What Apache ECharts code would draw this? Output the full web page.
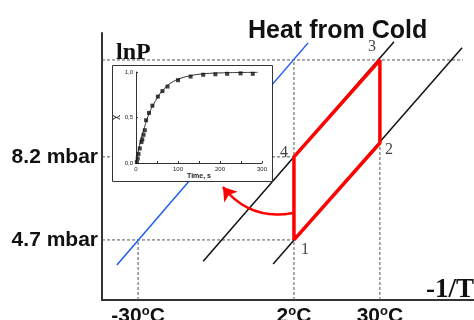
<!DOCTYPE html>
<html>
<head>
<meta charset="utf-8">
<script src="https://cdn.jsdelivr.net/npm/echarts@6/dist/echarts.min.js"></script>
<style>
  html, body { margin: 0; padding: 0; background: #fff; }
  #chart { width: 474px; height: 320px; }
</style>
</head>
<body>
<div id="chart"></div>
<script>
// main diagram, schematic units (x = -1/T, y = lnP), both 0..100
const xTickValues = [9.7, 51.6, 74.7];
const xTickLabels = ['-30', '2', '30'];
const yTickValues = [22.5, 53.6];
const yTickLabels = ['4.7 mbar', '8.2 mbar'];

// cycle 1 -> 2 -> 3 -> 4 -> 1
const cycleNames = ['1', '2', '3', '4'];
const cycleX = [51.6, 74.7, 74.7, 51.6];
const cycleY = [22.5, 58.8, 89.9, 53.6];

// isosteres
const blueLine = [[4.0, 13.1], [55.4, 96.3]];
const blackLineA = [[27.2, 14.5], [78.5, 96.7]];
const blackLineB = [[46.0, 13.5], [96.8, 94.5]];

// dotted guides
const guides = [
  [[0, 89.9], [97, 89.9]],
  [[0, 53.6], [51.6, 53.6]],
  [[0, 22.5], [51.6, 22.5]],
  [[9.7, 0], [9.7, 22.5]],
  [[51.6, 0], [51.6, 89.9]],
  [[74.7, 0], [74.7, 89.9]]
];

// curved red arrow (start on the 4-1 leg, end near the inset)
const arrowFrom = [51.3, 32.6];
const arrowTo = [32.5, 42.3];

// inset: uptake vs time
const insetTime = [2, 4, 6, 9, 13, 15, 18, 21, 24, 31, 39, 52, 63, 75, 100, 130, 160, 189, 217, 249, 278];
const insetChi = [0.01, 0.05, 0.10, 0.16, 0.23, 0.26, 0.31, 0.36, 0.47, 0.55, 0.63, 0.73, 0.79, 0.84, 0.91, 0.95, 0.97, 0.975, 0.98, 0.985, 0.98];
const fitTime = [0, 5, 10, 15, 20, 30, 40, 50, 60, 70, 80, 100, 125, 150, 175, 200, 250, 290];
const fitChi = [0, 0.12, 0.22, 0.31, 0.39, 0.53, 0.63, 0.71, 0.78, 0.83, 0.87, 0.92, 0.955, 0.975, 0.985, 0.99, 0.995, 0.997];

const chart = echarts.init(document.getElementById('chart'));

const seriesList = [];
guides.forEach(function (g) {
  seriesList.push({
    type: 'line', xAxisIndex: 0, yAxisIndex: 0, data: g, symbol: 'none', silent: true,
    lineStyle: { color: '#555', width: 1, type: [3, 2] }, z: 1
  });
});
seriesList.push({
  type: 'line', data: blueLine, symbol: 'none',
  lineStyle: { color: '#1a5cf0', width: 1.5 }, z: 2
});
[blackLineA, blackLineB].forEach(function (l) {
  seriesList.push({
    type: 'line', data: l, symbol: 'none',
    lineStyle: { color: '#111', width: 1.5 }, z: 2
  });
});
seriesList.push({
  type: 'line',
  data: cycleX.concat([cycleX[0]]).map(function (x, i) { return [x, cycleY.concat([cycleY[0]])[i]]; }),
  symbol: 'none',
  lineStyle: { color: '#ff0000', width: 3.5 },
  z: 3
});
// cycle point numbers
const labelOffsets = [[11, 10], [9, 7], [-8, -13], [-10, -4]];
seriesList.push({
  type: 'scatter',
  symbolSize: 0,
  data: cycleX.map(function (x, i) {
    return {
      value: [x, cycleY[i]],
      label: { show: true, formatter: cycleNames[i], position: 'inside', offset: labelOffsets[i] }
    };
  }),
  label: { color: '#111', fontFamily: 'Liberation Serif', fontSize: 16 },
  z: 4
});
seriesList.push({
  type: 'lines',
  coordinateSystem: 'cartesian2d',
  xAxisIndex: 0, yAxisIndex: 0,
  symbol: ['none', 'arrow'],
  symbolSize: 13,
  data: [{ coords: [arrowFrom, arrowTo] }],
  lineStyle: { color: '#ff0000', width: 2.5, curveness: 0.3, opacity: 1 },
  z: 4
});
// inset series
seriesList.push({
  type: 'line', xAxisIndex: 1, yAxisIndex: 1, data: fitTime.map(function (t, i) { return [t, fitChi[i]]; }),
  symbol: 'none', smooth: true, lineStyle: { color: '#333', width: 1 }, z: 11
});
seriesList.push({
  type: 'scatter', xAxisIndex: 1, yAxisIndex: 1, data: insetTime.map(function (t, i) { return [t, insetChi[i]]; }),
  symbol: 'rect', symbolSize: 4, itemStyle: { color: '#111' }, z: 12
});

const insetLabel = { fontSize: 6, color: '#222', fontFamily: 'Liberation Sans', margin: 3 };

chart.setOption({
  animation: false,
  backgroundColor: '#fff',
  title: [
    { text: 'Heat from Cold', left: 243, top: 14, textStyle: { fontFamily: 'Liberation Sans', fontWeight: 'bold', fontSize: 25, color: '#111' } },
    { text: 'lnP', left: 111, top: 36, textStyle: { fontFamily: 'Liberation Serif', fontWeight: 'bold', fontSize: 24, color: '#111' } },
    { text: '-1/T', left: 421, top: 272, textStyle: { fontFamily: 'Liberation Serif', fontWeight: 'bold', fontSize: 27, color: '#111' } }
  ],
  graphic: [{
    type: 'rect', z: 8,
    shape: { x: 112.5, y: 65.5, width: 160, height: 116 },
    style: { fill: '#fff', stroke: '#333', lineWidth: 1 }
  }],
  grid: [
    { left: 102, right: 0, top: 33, bottom: 20, outerBoundsMode: 'none', containLabel: false },
    { left: 136, top: 72, width: 126, height: 91, z: 10, outerBoundsMode: 'none', containLabel: false }
  ],
  xAxis: [{
    type: 'value', gridIndex: 0, min: 0, max: 100,
    axisLine: { lineStyle: { color: '#333', width: 2 } },
    axisTick: { show: false },
    splitLine: { show: false },
    axisLabel: {
      customValues: xTickValues,
      margin: 5,
      formatter: function (v) { return '{b|' + xTickLabels[xTickValues.indexOf(v)] + '}{s|o}{b|C}'; },
      rich: {
        b: { fontFamily: 'Liberation Sans', fontWeight: 'bold', fontSize: 21, color: '#111', lineHeight: 22 },
        s: { fontFamily: 'Liberation Sans', fontWeight: 'bold', fontSize: 13, color: '#111', verticalAlign: 'top', lineHeight: 18 }
      }
    }
  }, {
    type: 'value', gridIndex: 1, min: 0, max: 300, interval: 100, z: 11,
    axisLine: { onZero: false, lineStyle: { color: '#333', width: 1 } },
    axisTick: { inside: true, length: 2, lineStyle: { color: '#333' } },
    minorTick: { show: true, splitNumber: 2, length: 2, lineStyle: { color: '#333' } },
    splitLine: { show: false },
    axisLabel: insetLabel,
    name: 'Time, s', nameLocation: 'middle', nameGap: 10,
    nameTextStyle: { fontSize: 7, fontWeight: 'bold', color: '#222', fontFamily: 'Liberation Sans' }
  }],
  yAxis: [{
    type: 'value', gridIndex: 0, min: 0, max: 100,
    axisLine: { show: true, lineStyle: { color: '#333', width: 2 } },
    axisTick: { show: false },
    splitLine: { show: false },
    axisLabel: {
      customValues: yTickValues,
      margin: 4,
      fontFamily: 'Liberation Sans', fontWeight: 'bold', fontSize: 21, color: '#111',
      formatter: function (v) { return yTickLabels[yTickValues.indexOf(v)]; }
    }
  }, {
    type: 'value', gridIndex: 1, min: 0, max: 1, interval: 0.5, z: 11,
    axisLine: { show: true, onZero: false, lineStyle: { color: '#333', width: 1 } },
    axisTick: { inside: true, length: 2, lineStyle: { color: '#333' } },
    splitLine: { show: false },
    axisLabel: Object.assign({}, insetLabel, { formatter: function (v) { return v.toFixed(1).replace('.', ','); } }),
    name: 'χ', nameLocation: 'middle', nameGap: 16, nameRotate: 90,
    nameTextStyle: { fontSize: 9, color: '#222', fontFamily: 'DejaVu Sans' }
  }],
  series: seriesList
});
</script>
</body>
</html>
